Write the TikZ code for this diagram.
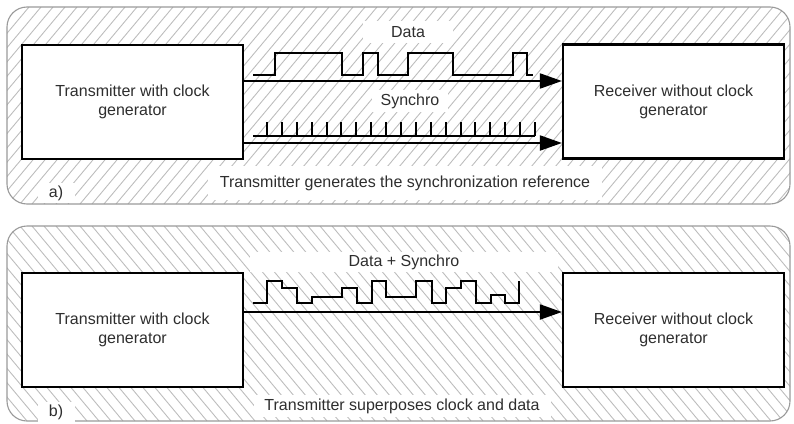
\documentclass[tikz,border=0pt]{standalone}
\usepackage{fontspec}
\setmainfont{Liberation Sans}
\usetikzlibrary{arrows.meta}
\definecolor{txt}{HTML}{2E2E2E}
\definecolor{hatch}{HTML}{BDBDBD}
\definecolor{frame}{HTML}{9A9A9A}

\begin{document}
\begin{tikzpicture}[x=1pt,y=-1pt,
  panel/.style={draw=frame, line width=1.1pt, rounded corners=20pt},
  hatchline/.style={draw=hatch, line width=0.9pt},
  block/.style={draw=black, line width=2.2pt, fill=white, text=txt,
    minimum width=221pt, minimum height=114pt, align=center, inner sep=0pt,
    font=\fontsize{16}{19}\selectfont},
  tag/.style={fill=white, text=txt, inner sep=0pt,
    font=\fontsize{16}{19}\selectfont},
  link/.style={line width=2pt, -{Triangle[length=22pt,width=15pt]}},
  wave/.style={line width=2pt, line join=miter}
]
\useasboundingbox (0,0) rectangle (794,423);

% ---------- panel a: hatched frame ----------
\begin{scope}
  \clip[rounded corners=20pt] (7,7) rectangle (790,204);
  \foreach \i in {-220,-208,...,800}
    \draw[hatchline] (\i,204) -- ++(165,-197);
\end{scope}
\draw[panel] (7,7) rectangle (790,204);

% ---------- panel b: hatched frame ----------
\begin{scope}
  \clip[rounded corners=20pt] (7,226) rectangle (790,421);
  \foreach \i in {-220,-208,...,800}
    \draw[hatchline] (\i,226) -- ++(163,195);
\end{scope}
\draw[panel] (7,226) rectangle (790,421);

% ---------- panel a: blocks ----------
\node[block] (txa) at (132.5,102) {Transmitter with clock\\generator};
\node[block] (rxa) at (673.5,101.5) {Receiver without clock\\generator};

% labels on white patches
\node[tag, minimum width=90pt, minimum height=22pt] (ldata) at (408,32) {Data};
\node[tag, minimum width=76pt, minimum height=22pt] (lsync) at (410,101) {Synchro};
\node[tag, minimum width=394pt, minimum height=34pt] (capa) at (405,183) {Transmitter generates the synchronization reference};
\node[tag, minimum width=37pt, minimum height=20pt] (ta) at (56,193) {a)};

% data and clock links
\coordinate (ya) at (0,81);
\coordinate (yb) at (0,143);
\draw[link] (txa.east |- ya) -- (rxa.west |- ya);
\draw[link] (txa.east |- yb) -- (rxa.west |- yb);

% data waveform
\draw[wave] (253,75) -- (275,75) -- (275,53) -- (342,53) -- (342,75)
  -- (363,75) -- (363,53) -- (378,53) -- (378,75) -- (408,75) -- (408,53)
  -- (453,53) -- (453,75) -- (513,75) -- (513,53) -- (527,53) -- (527,75)
  -- (533,75);

% clock pulses
\draw[wave] (253,136) -- (535,136);
\foreach \k in {0,...,18}
  \draw[wave] ({267+14.89*\k},136) -- ++(0,-14);

% ---------- panel b: blocks ----------
\node[block] (txb) at (132.5,330) {Transmitter with clock\\generator};
\node[block] (rxb) at (673.5,330) {Receiver without clock\\generator};

\node[tag, minimum width=308pt, minimum height=20pt] (lmix) at (404,262) {Data + Synchro};
\node[tag, minimum width=297pt, minimum height=22pt] (capb) at (402,406) {Transmitter superposes clock and data};
\node[tag, minimum width=37pt, minimum height=20pt] (tb) at (56,412) {b)};

\coordinate (yc) at (0,312);
\draw[link] (txb.east |- yc) -- (rxb.west |- yc);

% combined data + clock waveform
\draw[wave] (252.7,302.7) -- (266.7,302.7) -- (266.7,280.7) -- (281.7,280.7)
  -- (281.7,288.3) -- (296.7,288.3) -- (296.7,302.7) -- (311.7,302.7)
  -- (311.7,296.7) -- (341.7,296.7) -- (341.7,288.3) -- (356.7,288.3)
  -- (356.7,302.7) -- (371.7,302.7) -- (371.7,280.7) -- (386,280.7)
  -- (386,296.7) -- (416,296.7) -- (416,280.7) -- (431.7,280.7)
  -- (431.7,302.7) -- (446,302.7) -- (446,288.3) -- (460.7,288.3)
  -- (460.7,280.7) -- (476,280.7) -- (476,302.7) -- (490.7,302.7)
  -- (490.7,295) -- (505,295) -- (505,302.7) -- (519.3,302.7)
  -- (519.3,280.7);
\end{tikzpicture}
\end{document}
